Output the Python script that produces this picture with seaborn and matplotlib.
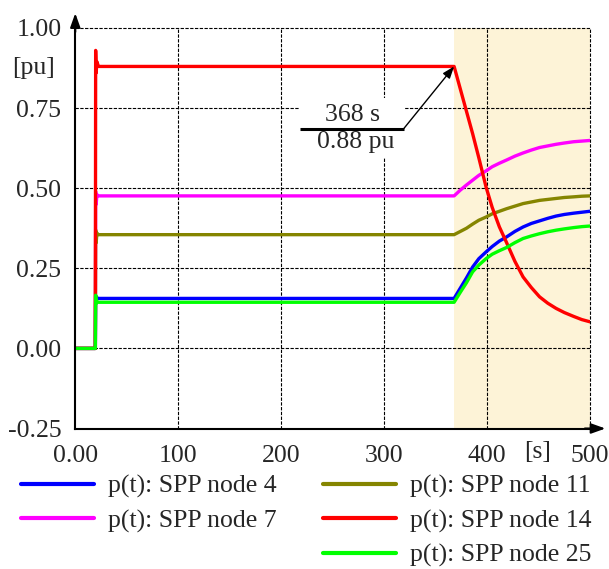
import numpy as np
import pandas as pd
import matplotlib
matplotlib.use("Agg")
import matplotlib.pyplot as plt
from matplotlib.patches import Rectangle
import seaborn as sns

# ---- data -------------------------------------------------------------
# simulation time [s]
t = [0, 19.5, 19.8, 20.3, 21.0, 22.5,
     368, 374, 380, 386, 392, 399, 405, 412, 419, 427, 435,
     443, 451, 459, 467, 475, 484, 492, 500]

# active power of the storage power plants [pu]
p_node4 = [0, 0, 0.165, 0.150, 0.158, 0.156,
           0.156, 0.188, 0.220, 0.254, 0.280, 0.301, 0.318, 0.335, 0.348, 0.365, 0.379,
           0.390, 0.398, 0.406, 0.413, 0.418, 0.422, 0.425, 0.428]
p_node7 = [0, 0, 0.490, 0.450, 0.480, 0.476,
           0.476, 0.494, 0.510, 0.525, 0.540, 0.554, 0.567, 0.578, 0.588, 0.600, 0.610,
           0.619, 0.627, 0.632, 0.637, 0.641, 0.645, 0.647, 0.649]
p_node11 = [0, 0, 0.370, 0.330, 0.360, 0.355,
            0.355, 0.365, 0.375, 0.388, 0.400, 0.410, 0.420, 0.428, 0.436, 0.444, 0.452,
            0.457, 0.462, 0.465, 0.468, 0.471, 0.473, 0.475, 0.476]
p_node14 = [0, 0, 0.930, 0.860, 0.895, 0.880,
            0.880, 0.810, 0.740, 0.670, 0.595, 0.504, 0.440, 0.379, 0.330, 0.272, 0.223,
            0.190, 0.161, 0.141, 0.125, 0.112, 0.100, 0.090, 0.083]
p_node25 = [0, 0, 0.166, 0.140, 0.147, 0.144,
            0.144, 0.175, 0.205, 0.239, 0.260, 0.280, 0.294, 0.305, 0.315, 0.330, 0.343,
            0.351, 0.358, 0.364, 0.369, 0.373, 0.377, 0.380, 0.382]

series_names = ["p(t): SPP node 4", "p(t): SPP node 7", "p(t): SPP node 11",
                "p(t): SPP node 14", "p(t): SPP node 25"]
series_values = [p_node4, p_node7, p_node11, p_node14, p_node25]
series_colors = ["#0000ff", "#ff00ff", "#858500", "#ff0000", "#00ff00"]

# marked event: start of the discharge of node 14
event_t = 368
event_p = 0.88

x_ticks = [0, 100, 200, 300, 400, 500]
x_labels = ["0.00", "100", "200", "300", "400", "500"]
y_ticks = [-0.25, 0.0, 0.25, 0.50, 0.75, 1.00]
y_labels = ["-0.25", "0.00", "0.25", "0.50", "0.75", "1.00"]

# ---- figure ------------------------------------------------------------
sns.set_style("white")
plt.rcParams["font.family"] = ["Liberation Serif", "DejaVu Serif"]
plt.rcParams["axes.unicode_minus"] = False

FS = 18.5
fig = plt.figure(figsize=(6.09, 5.69), dpi=100)
ax = fig.add_axes([0.1236, 0.2469, 0.8452, 0.7039])

df = pd.concat(
    [pd.DataFrame({"t": t, "p": v, "series": n}) for n, v in zip(series_names, series_values)],
    ignore_index=True,
)

ax.axvspan(event_t, 500, color="#fdf3d7", zorder=0, lw=0)

sns.lineplot(data=df, x="t", y="p", hue="series", hue_order=series_names,
             palette=series_colors, estimator=None, sort=False,
             linewidth=2.4, legend=False, ax=ax, zorder=3)
for ln in ax.get_lines():
    ln.set_solid_joinstyle("round")

ax.set_xlim(0, 500)
ax.set_ylim(-0.25, 1.0)
ax.set_xlabel("")
ax.set_ylabel("")

# grid
grid_kw = dict(color="black", lw=0.8, dashes=(3, 1.3), zorder=1, clip_on=False)
for xv in x_ticks[1:]:
    ax.axvline(xv, **grid_kw)
for yv in y_ticks[1:]:
    ax.axhline(yv, **grid_kw)

# ticks
ax.set_xticks(x_ticks)
ax.set_xticklabels(x_labels, fontsize=FS)
ax.set_yticks(y_ticks)
ax.set_yticklabels(y_labels, fontsize=FS)
ax.set_xticks(np.arange(50, 500, 100), minor=True)
ax.set_yticks(np.arange(-0.125, 1.0, 0.25), minor=True)
ax.tick_params(which="major", length=0, pad=10)
ax.tick_params(axis="x", which="major", pad=12)
ax.tick_params(which="minor", direction="in", length=5, width=1, color="black")
ax.tick_params(axis="x", which="minor", length=4)

for side in ["top", "right"]:
    ax.spines[side].set_visible(False)
for side in ["left", "bottom"]:
    ax.spines[side].set_color("black")
    ax.spines[side].set_linewidth(1.5)
    ax.spines[side].set_zorder(4)

# axis arrows
arrow_kw = dict(arrowstyle="-|>,head_length=0.7,head_width=0.25", color="black",
                lw=1.5, mutation_scale=12, shrinkA=0, shrinkB=0)
ax.annotate("", xy=(0, 1.037), xytext=(0, 0.99), xycoords="axes fraction",
            arrowprops=arrow_kw, annotation_clip=False)
ax.annotate("", xy=(1.03, 0), xytext=(0.99, 0), xycoords="axes fraction",
            arrowprops=arrow_kw, annotation_clip=False)

# unit labels
ax.text(-0.082, 0.875, "[pu]", transform=ax.get_yaxis_transform(),
        ha="center", va="center", fontsize=FS)
ax.text(449, -0.323, "[s]", ha="center", va="center", fontsize=FS, clip_on=False)

# annotation of the event
ax.add_patch(Rectangle((218, 0.593), 101, 0.187, facecolor="white",
                       edgecolor="none", zorder=2))
ax.plot([218.2, 319.1], [0.686, 0.686], color="black", lw=2.2,
        solid_capstyle="butt", zorder=5)
ax.annotate("", xy=(event_t, event_p), xytext=(319.1, 0.686),
            arrowprops=dict(arrowstyle="-|>,head_length=0.6,head_width=0.22",
                            color="black", lw=1.0, mutation_scale=12,
                            shrinkA=0, shrinkB=0),
            zorder=5)
ax.text(269.6, 0.727, f"{event_t} s", ha="center", va="center", fontsize=FS, zorder=5)
ax.text(272.5, 0.643, f"{event_p:.2f} pu", ha="center", va="center", fontsize=FS, zorder=5)

# legend in two columns
handles = ax.get_lines()[:5]
leg_kw = dict(frameon=False, fontsize=FS, handlelength=2.85, handletextpad=0.55,
              labelspacing=0.44, borderpad=0, borderaxespad=0, loc="upper left")
leg1 = fig.legend(handles[:2], series_names[:2], bbox_to_anchor=(0.0345, 0.166), **leg_kw)
leg2 = fig.legend(handles[2:5], series_names[2:5], bbox_to_anchor=(0.530, 0.166), **leg_kw)
for leg in (leg1, leg2):
    for h in leg.legend_handles:
        h.set_linewidth(3.0)

fig.savefig("out.png", dpi=100)
